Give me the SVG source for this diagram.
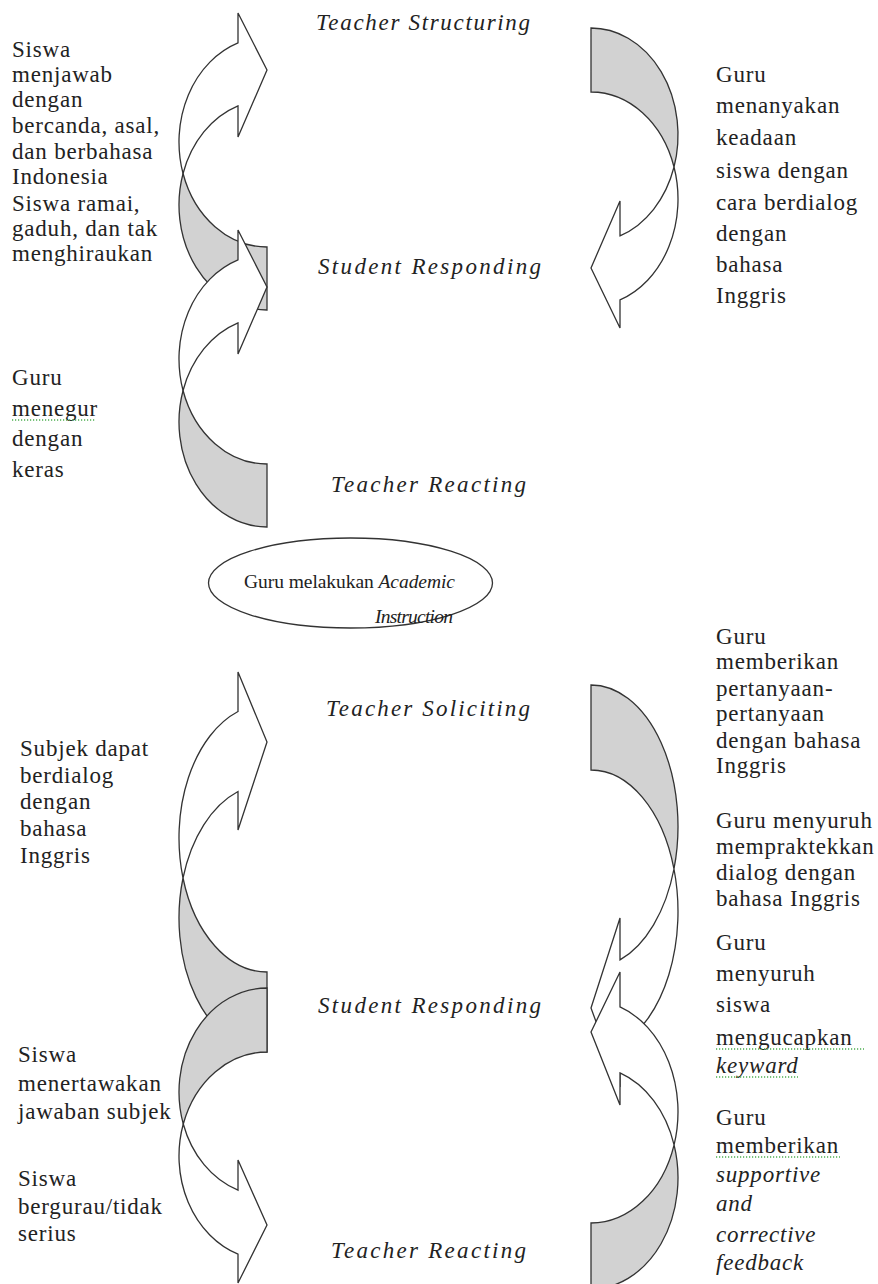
<svg xmlns="http://www.w3.org/2000/svg" width="878" height="1284" viewBox="0 0 878 1284">
<style>
.front{fill:#ffffff;stroke:#333333;stroke-width:1.3;stroke-linejoin:miter}
.back{fill:#d2d2d2;stroke:#333333;stroke-width:1.3}
.t{font-family:"Liberation Serif",serif;font-size:23px;letter-spacing:0.8px;fill:#222}
.i{font-style:italic}
.lab{font-family:"Liberation Serif",serif;font-style:italic;font-size:23px;fill:#222}
.el{font-family:"Liberation Serif",serif;font-size:19.5px;fill:#222}
.sq{fill:none;stroke:#4caf50;stroke-width:1.3;stroke-dasharray:1.2 1.8}
</style>
<rect width="878" height="1284" fill="#ffffff"/>
<g id="connectors">
  <g id="arrow-left-1">
    <path class="back" d="M267,310 A88,105 0 0 1 183.05,173.5 A88,105 0 0 0 267,247 Z"/>
    <path class="front" d="M183.05,173.5 A88,105 0 0 1 238,105.87 L238,137 L267,70 L238,13 L238,42.87 A88,105 0 0 0 183.05,173.5 Z"/>
  </g>
  <g id="arrow-left-2">
    <path class="back" d="M267,527 A88,105 0 0 1 183.05,390.5 A88,105 0 0 0 267,464 Z"/>
    <path class="front" d="M183.05,390.5 A88,105 0 0 1 238,322.87 L238,354 L267,287 L238,230 L238,259.87 A88,105 0 0 0 183.05,390.5 Z"/>
  </g>
  <g id="arrow-right-1">
    <path class="back" d="M591,28 A87,107 0 0 1 674.02,167 A87,107 0 0 0 591,92 Z"/>
    <path class="front" d="M674.02,167 A87,107 0 0 1 620,235.88 L620,201 L591,268 L620,328 L620,299.88 A87,107 0 0 0 674.02,167 Z"/>
  </g>
  <g id="arrow-left-3">
    <path class="back" d="M267,1052 A88,134 0 0 1 183.01,878 A88,134 0 0 0 267,972 Z"/>
    <path class="front" d="M183.01,878 A88,134 0 0 1 238,791.49 L238,830 L267,742 L238,672 L238,711.49 A88,134 0 0 0 183.01,878 Z"/>
  </g>
  <g id="arrow-left-4">
    <path class="back" d="M267,988 A88,104 0 0 0 183.27,1124 A88,104 0 0 1 267,1052 Z"/>
    <path class="front" d="M183.27,1124 A88,104 0 0 0 238,1190.19 L238,1160 L267,1225 L238,1283 L238,1254.19 A88,104 0 0 1 183.27,1124 Z"/>
  </g>
  <g id="arrow-right-2">
    <path class="back" d="M591,685 A87,141.5 0 0 1 673.98,869 A87,141.5 0 0 0 591,770 Z"/>
    <path class="front" d="M673.98,869 A87,141.5 0 0 1 620,959.91 L620,918 L591,1008 L620,1087 L620,1044.91 A87,141.5 0 0 0 673.98,869 Z"/>
  </g>
  <g id="arrow-right-3">
    <path class="back" d="M591,1289 A87,111.2 0 0 0 674.08,1144.8 A87,111.2 0 0 1 591,1223 Z"/>
    <path class="front" d="M674.08,1144.8 A87,111.2 0 0 0 620,1072.96 L620,1105 L591,1032 L620,972 L620,1006.96 A87,111.2 0 0 1 674.08,1144.8 Z"/>
  </g>
</g>
<g id="teacher-structuring"><text class="lab" x="316" y="30" textLength="214" lengthAdjust="spacing">Teacher Structuring</text></g>
<g id="student-responding-1"><text class="lab" x="318" y="274" textLength="223" lengthAdjust="spacing">Student Responding</text></g>
<g id="teacher-reacting-1"><text class="lab" x="331" y="492" textLength="195" lengthAdjust="spacing">Teacher Reacting</text></g>
<g id="academic-instruction">
  <ellipse cx="350.5" cy="583" rx="142" ry="45" fill="#ffffff" stroke="#333333" stroke-width="1.3"/>
  <text class="el" x="244" y="588" textLength="211" lengthAdjust="spacing">Guru melakukan <tspan font-style="italic">Academic</tspan></text>
  <text class="el" x="375" y="623" font-style="italic" textLength="78" lengthAdjust="spacing">Instruction</text>
</g>
<g id="teacher-soliciting"><text class="lab" x="326" y="716" textLength="204" lengthAdjust="spacing">Teacher Soliciting</text></g>
<g id="student-responding-2"><text class="lab" x="318" y="1013" textLength="223" lengthAdjust="spacing">Student Responding</text></g>
<g id="teacher-reacting-2"><text class="lab" x="331" y="1258" textLength="195" lengthAdjust="spacing">Teacher Reacting</text></g>
<g id="note-left-1">
  <text class="t" x="12" y="57">Siswa</text>
  <text class="t" x="12" y="82">menjawab</text>
  <text class="t" x="12" y="107">dengan</text>
  <text class="t" x="12" y="133">bercanda, asal,</text>
  <text class="t" x="12" y="159">dan berbahasa</text>
  <text class="t" x="12" y="184">Indonesia</text>
  <text class="t" x="12" y="211">Siswa ramai,</text>
  <text class="t" x="12" y="236">gaduh, dan tak</text>
  <text class="t" x="12" y="261">menghiraukan</text>
</g>
<g id="note-left-2">
  <text class="t" x="12" y="385">Guru</text>
  <text class="t" x="12" y="416">menegur</text>
  <line class="sq" x1="12" y1="420" x2="96" y2="420"/>
  <text class="t" x="12" y="446">dengan</text>
  <text class="t" x="12" y="477">keras</text>
</g>
<g id="note-right-1">
  <text class="t" x="716" y="82">Guru</text>
  <text class="t" x="716" y="113">menanyakan</text>
  <text class="t" x="716" y="145">keadaan</text>
  <text class="t" x="716" y="178">siswa  dengan</text>
  <text class="t" x="716" y="210">cara berdialog</text>
  <text class="t" x="716" y="241">dengan</text>
  <text class="t" x="716" y="272">bahasa</text>
  <text class="t" x="716" y="303">Inggris</text>
</g>
<g id="note-left-3">
  <text class="t" x="20" y="756">Subjek dapat</text>
  <text class="t" x="20" y="783">berdialog</text>
  <text class="t" x="20" y="809">dengan</text>
  <text class="t" x="20" y="836">bahasa</text>
  <text class="t" x="20" y="863">Inggris</text>
</g>
<g id="note-left-4">
  <text class="t" x="18" y="1062">Siswa</text>
  <text class="t" x="18" y="1091">menertawakan</text>
  <text class="t" x="18" y="1119">jawaban subjek</text>
</g>
<g id="note-left-5">
  <text class="t" x="18" y="1186">Siswa</text>
  <text class="t" x="18" y="1214">bergurau/tidak</text>
  <text class="t" x="18" y="1241">serius</text>
</g>
<g id="note-right-2">
  <text class="t" x="716" y="644">Guru</text>
  <text class="t" x="716" y="669">memberikan</text>
  <text class="t" x="716" y="696">pertanyaan-</text>
  <text class="t" x="716" y="721">pertanyaan</text>
  <text class="t" x="716" y="748">dengan bahasa</text>
  <text class="t" x="716" y="773">Inggris</text>
</g>
<g id="note-right-3">
  <text class="t" x="716" y="828">Guru menyuruh</text>
  <text class="t" x="716" y="854">mempraktekkan</text>
  <text class="t" x="716" y="880">dialog dengan</text>
  <text class="t" x="716" y="906">bahasa Inggris</text>
</g>
<g id="note-right-4">
  <text class="t" x="716" y="950">Guru</text>
  <text class="t" x="716" y="981">menyuruh</text>
  <text class="t" x="716" y="1012">siswa</text>
  <text class="t" x="716" y="1045">mengucapkan</text>
  <line class="sq" x1="716" y1="1049" x2="864" y2="1049"/>
  <text class="t i" x="716" y="1073">keyward</text>
  <line class="sq" x1="716" y1="1077" x2="798" y2="1077"/>
</g>
<g id="note-right-5">
  <text class="t" x="716" y="1125">Guru</text>
  <text class="t" x="716" y="1153">memberikan</text>
  <line class="sq" x1="716" y1="1157" x2="840" y2="1157"/>
  <text class="t i" x="716" y="1182">supportive</text>
  <text class="t i" x="716" y="1211">and</text>
  <text class="t i" x="716" y="1242">corrective</text>
  <text class="t i" x="716" y="1270">feedback</text>
</g>
</svg>
